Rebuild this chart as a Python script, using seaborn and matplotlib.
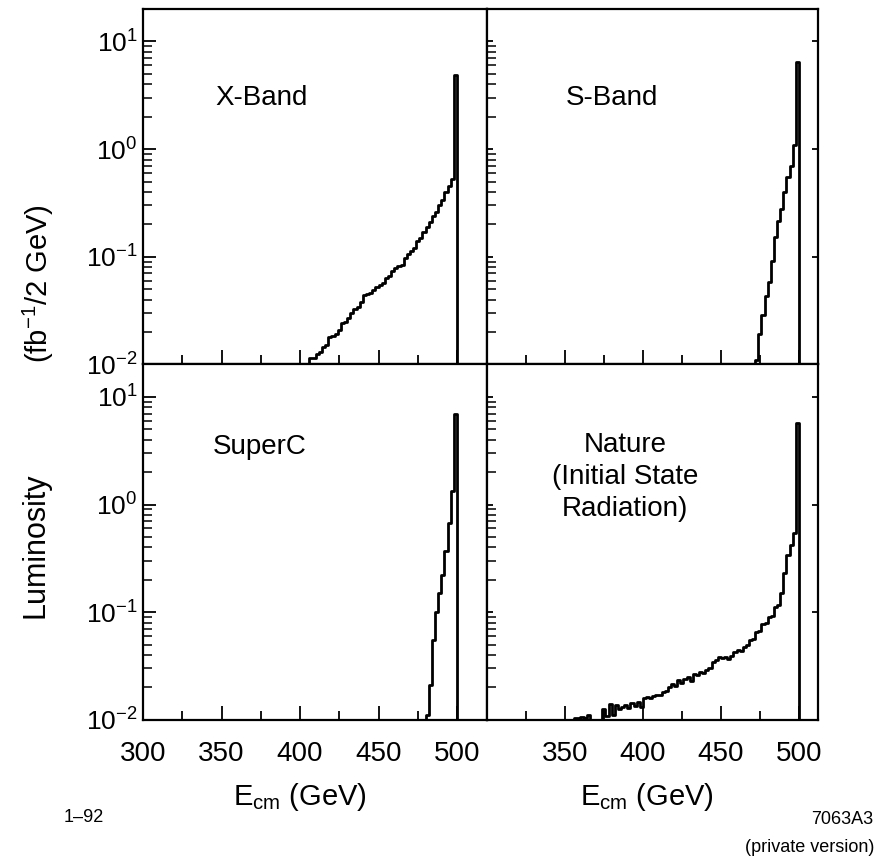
import numpy as np
import pandas as pd
import matplotlib
matplotlib.use("Agg")
import matplotlib.pyplot as plt
from matplotlib.ticker import LogLocator, FixedLocator
import seaborn as sns

# luminosity per 2 GeV bin (fb^-1)
bin_width = 2.0

xband_start = 406
xband_lum = [0.0115, 0.0115, 0.0125, 0.013, 0.0145, 0.015, 0.018, 0.0185, 0.019, 0.021,
             0.024, 0.025, 0.027, 0.030, 0.033, 0.034, 0.038, 0.044, 0.045, 0.046,
             0.049, 0.052, 0.055, 0.057, 0.063, 0.066, 0.073, 0.078, 0.082, 0.084,
             0.098, 0.105, 0.113, 0.12, 0.14, 0.15, 0.17, 0.19, 0.21, 0.24,
             0.26, 0.30, 0.34, 0.40, 0.45, 0.53, 4.9]

sband_start = 472
sband_lum = [0.011, 0.019, 0.029, 0.043, 0.058, 0.091, 0.151, 0.215, 0.28, 0.40,
             0.55, 0.70, 1.08, 6.5]

superc_start = 480
superc_lum = [0.011, 0.021, 0.055, 0.10, 0.15, 0.22, 0.37, 0.68, 1.33, 6.9]

nature_start = 356
nature_lum = [0.0103, 0.0104, 0.0106, 0.0104, 0.0112, 0.0098, 0.0097, 0.0099, 0.0098, 0.0125,
              0.0108, 0.0140, 0.0112, 0.0138, 0.0125, 0.0131, 0.0136, 0.0128, 0.0143, 0.0135,
              0.0148, 0.0132, 0.0158, 0.0162, 0.0160, 0.0168, 0.0172, 0.0170, 0.0180, 0.0186,
              0.0200, 0.0214, 0.0207, 0.0236, 0.0222, 0.0241, 0.0249, 0.0232, 0.0268, 0.0262,
              0.0280, 0.0274, 0.0291, 0.0300, 0.0345, 0.0362, 0.0380, 0.0374, 0.0386, 0.0369,
              0.0396, 0.0428, 0.0441, 0.0438, 0.0478, 0.0492, 0.0548, 0.0562, 0.0655, 0.0668,
              0.0785, 0.0802, 0.0905, 0.0918, 0.112, 0.116, 0.151, 0.232, 0.343, 0.420,
              0.545, 5.75]

panel_names = ["X-Band", "S-Band", "SuperC", "Nature\n(Initial State\nRadiation)"]
panel_starts = [xband_start, sband_start, superc_start, nature_start]
panel_lums = [xband_lum, sband_lum, superc_lum, nature_lum]
name_pos = [(0.346, 0.75), (0.378, 0.75), (0.34, 0.768), (0.417, 0.684)]

sns.set_style("ticks")
plt.rcParams["font.family"] = ["Liberation Sans", "DejaVu Sans"]
plt.rcParams["mathtext.fontset"] = "custom"
plt.rcParams["mathtext.rm"] = "Liberation Sans"
plt.rcParams["mathtext.it"] = "Liberation Sans:italic"
plt.rcParams["mathtext.bf"] = "Liberation Sans:bold"
plt.rcParams["mathtext.default"] = "regular"
for key in ["text.color", "axes.labelcolor", "xtick.color", "ytick.color", "axes.edgecolor"]:
    plt.rcParams[key] = "black"

fig, axes = plt.subplots(2, 2, figsize=(8.83, 8.58), dpi=100,
                         gridspec_kw=dict(width_ratios=[344, 331]))
fig.subplots_adjust(left=0.162, right=0.926, top=0.9895, bottom=0.161,
                    wspace=0, hspace=0)


def draw_panel(ax, start, lum):
    n = len(lum)
    df = pd.DataFrame({"E": start + bin_width * (np.arange(n) + 0.5), "lum": lum})
    # one empty bin each side so the step falls back to the axis
    edges = [start + bin_width * k for k in range(-1, n + 2)]
    sns.histplot(data=df, x="E", weights="lum", bins=edges, element="step",
                 fill=False, color="black", linewidth=2.0, ax=ax)


for i, ax in enumerate(axes.flat):
    draw_panel(ax, panel_starts[i], panel_lums[i])
    row, col = divmod(i, 2)

    ax.set_yscale("log")
    ax.set_ylim(1e-2, 20)
    ax.yaxis.set_major_locator(LogLocator(base=10, numticks=10))
    ax.yaxis.set_minor_locator(LogLocator(base=10, subs=np.arange(2, 10), numticks=10))

    if col == 0:
        ax.set_xlim(300, 519)
        ax.xaxis.set_major_locator(FixedLocator([300, 350, 400, 450, 500]))
    else:
        ax.set_xlim(300, 512)
        ax.xaxis.set_major_locator(FixedLocator([350, 400, 450, 500]))
    ax.xaxis.set_minor_locator(FixedLocator([325, 375, 425, 475]))

    ax.tick_params(which="both", direction="in", top=False, color="black")
    ax.tick_params(axis="x", which="major", length=10, width=1.3,
                   labelsize=20, pad=15, labelbottom=(row == 1))
    ax.tick_params(axis="x", which="minor", length=6.5, width=1.3)
    ax.tick_params(axis="y", which="major", length=9, width=1.3,
                   labelsize=19, pad=4, labelleft=(col == 0), right=(col == 1))
    ax.tick_params(axis="y", which="minor", length=6.5, width=1.1, right=False)
    if col == 1:
        ax.tick_params(axis="y", which="major", length=4)

    for sp in ax.spines.values():
        sp.set_visible(True)
        sp.set_linewidth(1.6)
        sp.set_color("black")

    ax.set_ylabel("")
    if row == 1:
        ax.set_xlabel("E$_{\\rm cm}$ (GeV)", fontsize=21)
        ax.xaxis.set_label_coords(0.456 if col == 0 else 0.483, -0.173)
    else:
        ax.set_xlabel("")

    tx, ty = name_pos[i]
    ax.text(tx, ty, panel_names[i], transform=ax.transAxes, ha="center",
            va="center", fontsize=20, linespacing=1.3)

fig.text(38 / 883, 1 - 284 / 858, "(fb$^{-1}$/2 GeV)", rotation=90,
         ha="center", va="center", fontsize=21)
fig.text(36 / 883, 1 - 545 / 858, "Luminosity", rotation=90,
         ha="center", va="center", fontsize=22)

fig.text(84 / 883, 1 - 818 / 858, "1–92", ha="center", va="center", fontsize=13)
fig.text(842 / 883, 1 - 820 / 858, "7063A3", ha="center", va="center", fontsize=13)
fig.text(810 / 883, 1 - 847 / 858, "(private version)", ha="center", va="center", fontsize=13)

fig.savefig("out.png", dpi=100)
